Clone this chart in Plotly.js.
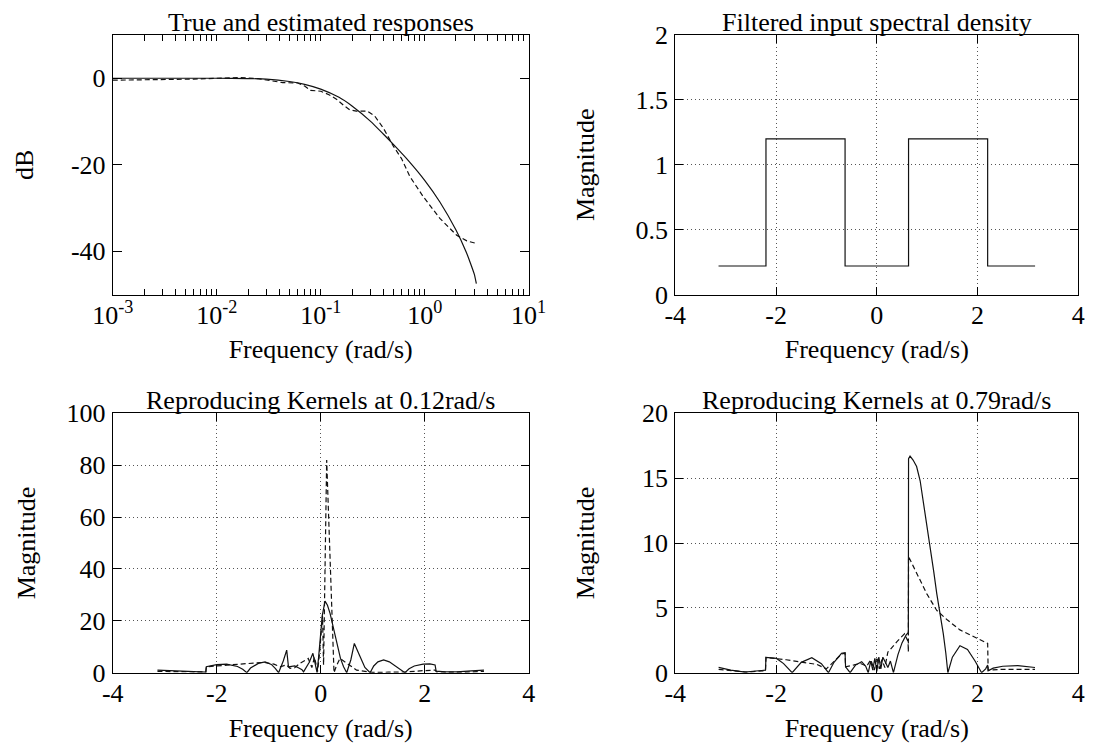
<!DOCTYPE html>
<html><head><meta charset="utf-8">
<script src="https://cdn.plot.ly/plotly-3.0.1.min.js"></script>
<style>html,body{margin:0;padding:0;background:#fff}#chart{width:1100px;height:743px}</style>
</head><body><div id="chart"></div>
<script>
// ---------- Top-left: true and estimated responses (dB vs rad/s, log x) ----------
const trueFreq = [0.001, 0.01, 0.02, 0.03, 0.05, 0.07, 0.1, 0.15, 0.2, 0.3, 0.4, 0.5, 0.7, 1.0, 1.4, 2.0, 2.5, 2.75, 3.0, 3.14];
const trueDB   = [0, 0, -0.07, -0.2, -0.75, -1.4, -2.5, -4.4, -6.4, -9.9, -12.9, -15.3, -19.1, -23.6, -28.6, -35.1, -40.1, -42.7, -45.3, -47.5];
const estFreq  = [0.001, 0.003, 0.006, 0.01, 0.017, 0.025, 0.033, 0.043, 0.06, 0.07, 0.08, 0.1, 0.12, 0.143, 0.165, 0.19, 0.22, 0.28, 0.33, 0.4, 0.5, 0.6, 0.72, 0.97, 1.4, 2.03, 2.54, 3.14];
const estDB    = [-0.45, -0.4, -0.2, 0.0, 0.15, -0.1, -0.6, -1.0, -1.1, -1.8, -2.8, -3.0, -3.8, -4.9, -6.2, -7.3, -7.6, -7.6, -8.7, -11.5, -15.7, -18.6, -22.7, -27.4, -32.4, -36.3, -37.6, -38.2];

// ---------- Top-right: filtered input spectral density (step) ----------
const psdFreq = [-3.1416, -2.2, -0.63, 0.63, 2.2, 3.1416];
const psdMag  = [0.22, 1.2, 0.22, 1.2, 0.22, 0.22];

// ---------- Bottom-left: reproducing kernels at 0.12 rad/s ----------
const k1SolidFreq = [-3.14, -2.9, -2.64, -2.4, -2.21, -2.2, -2.0, -1.81, -1.6, -1.5, -1.42, -1.35, -1.2, -1.07, -0.95, -0.87, -0.81, -0.72, -0.654, -0.62, -0.5, -0.42, -0.36, -0.33, -0.22, -0.15, -0.1, -0.07, -0.04, -0.013, 0.03, 0.083, 0.13, 0.18, 0.25, 0.31, 0.38, 0.44, 0.5, 0.58, 0.647, 0.75, 0.85, 0.95, 1.02, 1.1, 1.21, 1.32, 1.45, 1.55, 1.62, 1.7, 1.8, 1.97, 2.1, 2.2, 2.22, 2.4, 2.62, 2.9, 3.14];
const k1SolidMag  = [1.0, 0.8, 0.6, 0.4, 0.26, 2.3, 3.1, 3.3, 2.4, 1.3, 0.0, 1.8, 3.6, 4.2, 3.2, 1.6, 0.0, 4.5, 8.7, 2.3, 2.6, 1.8, 1.2, 0.3, 4.0, 7.5, 3.0, 0.0, 6.0, 12.6, 22.0, 27.6, 26.0, 22.9, 16.5, 11.3, 5.5, 2.3, 0.0, 5.0, 11.3, 6.5, 2.0, 0.0, 2.6, 4.2, 4.9, 4.2, 2.4, 0.9, 0.0, 1.5, 2.6, 3.3, 3.4, 3.0, 0.6, 0.3, 0.3, 0.7, 1.0];
const k1DashFreq  = [-3.14, -2.6, -2.21, -2.2, -1.9, -1.5, -1.1, -0.9, -0.78, -0.66, -0.59, -0.5, -0.4, -0.24, -0.17, -0.12, -0.06, -0.02, 0.035, 0.055, 0.115, 0.256, 0.3, 0.37, 0.45, 0.55, 0.69, 0.85, 1.0, 1.3, 1.65, 1.97, 2.2, 2.23, 2.7, 3.14];
const k1DashMag   = [0.5, 0.4, 0.3, 2.3, 2.8, 3.3, 4.0, 3.3, 2.3, 3.0, 1.7, 1.9, 3.6, 5.5, 2.0, 6.0, 0.5, 8.0, 22.0, 3.0, 82.0, 0.0, 2.5, 5.5, 4.5, 3.0, 1.0, 0.5, 0.1, 0.2, 0.3, 0.8, 1.0, 0.3, 0.2, 0.5];

// ---------- Bottom-right: reproducing kernels at 0.79 rad/s ----------
const k2SolidFreq = [-3.14, -2.9, -2.62, -2.4, -2.21, -2.2, -1.99, -1.85, -1.68, -1.5, -1.29, -1.1, -0.96, -0.85, -0.70, -0.63, -0.62, -0.53, -0.42, -0.30, -0.22, -0.17, -0.12, -0.08, -0.04, 0.0, 0.04, 0.08, 0.12, 0.17, 0.22, 0.27, 0.33, 0.42, 0.5, 0.58, 0.626, 0.63, 0.66, 0.72, 0.79, 0.86, 0.92, 1.0, 1.06, 1.13, 1.19, 1.26, 1.32, 1.37, 1.41, 1.5, 1.65, 1.8, 1.95, 2.08, 2.16, 2.2, 2.21, 2.31, 2.5, 2.8, 3.14];
const k2SolidMag  = [0.41, 0.2, 0.05, 0.12, 0.2, 1.18, 1.1, 0.7, 0.0, 0.8, 1.16, 0.7, 0.0, 0.8, 1.5, 1.54, 0.46, 0.0, 0.6, 0.85, 0.5, 0.0, 0.9, 0.2, 1.1, 0.1, 1.2, 0.3, 1.2, 0.8, 0.4, 0.9, 0.0, 1.4, 2.3, 2.9, 3.1, 16.5, 16.7, 16.4, 15.9, 14.8, 13.3, 11.4, 9.7, 7.8, 6.1, 4.5, 3.0, 1.5, 0.0, 1.2, 2.08, 1.8, 0.9, 0.0, 0.3, 0.6, 0.15, 0.35, 0.5, 0.55, 0.4];
const k2DashFreq  = [-3.14, -2.9, -2.58, -2.21, -2.2, -1.8, -1.4, -1.19, -1.0, -0.85, -0.70, -0.63, -0.62, -0.45, -0.33, -0.2, -0.12, -0.05, 0.0, 0.05, 0.1, 0.16, 0.22, 0.27, 0.4, 0.55, 0.62, 0.626, 0.63, 0.725, 0.85, 0.99, 1.19, 1.39, 1.65, 1.98, 2.2, 2.21, 2.5, 3.14];
const k2DashMag   = [0.26, 0.15, 0.05, 0.15, 1.18, 1.0, 0.8, 0.64, 0.3, 0.9, 1.44, 1.5, 0.46, 0.6, 0.72, 0.5, 1.0, 0.2, 1.2, 0.3, 1.0, 0.4, 1.6, 1.8, 2.4, 3.0, 2.4, 1.6, 8.95, 8.2, 7.2, 6.1, 4.8, 4.1, 3.3, 2.65, 2.26, 0.2, 0.26, 0.26];

// ---------- Text and tick labels ----------
const subplotTitles = ['True and estimated responses', 'Filtered input spectral density', 'Reproducing Kernels at 0.12rad/s', 'Reproducing Kernels at 0.79rad/s'];
const xTitle = 'Frequency (rad/s)';
const logTickVals = [0.001, 0.01, 0.1, 1, 10];
const logTickText = ['10<sup>-3</sup>', '10<sup>-2</sup>', '10<sup>-1</sup>', '10<sup>0</sup>', '10<sup>1</sup>'];
const dbTickVals = [-40, -20, 0];
const dbTickText = ['-40', '-20', '0'];
const linTickVals = [-4, -2, 0, 2, 4];
const linTickText = ['-4', '-2', '0', '2', '4'];
const psdTickVals = [0, 0.5, 1, 1.5, 2];
const psdTickText = ['0', '0.5', '1', '1.5', '2'];
const k1TickVals = [0, 20, 40, 60, 80, 100];
const k1TickText = ['0', '20', '40', '60', '80', '100'];
const k2TickVals = [0, 5, 10, 15, 20];
const k2TickText = ['0', '5', '10', '15', '20'];

const FONT = 'Liberation Serif, Times New Roman, Times, serif';
const FS = 26;
const INK = '#111';

function solid(x, y, xa, ya) { return {x, y, xaxis: xa, yaxis: ya, type: 'scatter', mode: 'lines', line: {color: INK, width: 1.2}, hoverinfo: 'skip'}; }
function dashed(x, y, xa, ya) { return {x, y, xaxis: xa, yaxis: ya, type: 'scatter', mode: 'lines', line: {color: INK, width: 1.2, dash: '5px,3px'}, hoverinfo: 'skip'}; }

const traces = [
  Object.assign(solid(trueFreq, trueDB, 'x', 'y'), {line: {color: INK, width: 1.2, shape: 'spline', smoothing: 0.6}}),
  dashed(estFreq, estDB, 'x', 'y'),
  Object.assign(solid(psdFreq, psdMag, 'x2', 'y2'), {line: {color: INK, width: 1.2, shape: 'hv'}}),
  solid(k1SolidFreq, k1SolidMag, 'x3', 'y3'),
  dashed(k1DashFreq, k1DashMag, 'x3', 'y3'),
  solid(k2SolidFreq, k2SolidMag, 'x4', 'y4'),
  dashed(k2DashFreq, k2DashMag, 'x4', 'y4')
];

function axis(extra) {
  return Object.assign({
    showline: true, mirror: 'ticks', linecolor: '#000', linewidth: 1,
    ticks: 'inside', ticklen: 8, tickcolor: '#000', tickwidth: 1,
    zeroline: false, showgrid: true, gridcolor: '#555', gridwidth: 1, griddash: '1px,3px',
    fixedrange: true, automargin: false, tickmode: 'array',
    tickfont: {family: FONT, size: FS, color: '#000'}, ticklabelstandoff: 1
  }, extra);
}
function xt() { return {text: xTitle, font: {family: FONT, size: FS, color: '#000'}, standoff: 11}; }
function yt(t, s) { return {text: t, font: {family: FONT, size: FS, color: '#000'}, standoff: s}; }

const colL = [0.1025, 0.4806], colR = [0.6139, 0.9803];
const rowT = [0.6036, 0.9529], rowB = [0.0946, 0.4437];

const layout = {
  width: 1100, height: 743, margin: {l: 0, r: 0, t: 0, b: 0},
  paper_bgcolor: '#fff', plot_bgcolor: '#fff', showlegend: false,
  font: {family: FONT, size: FS, color: '#000'},
  xaxis: axis({domain: colL, anchor: 'y', type: 'log', range: [-3, 1], tickvals: logTickVals, ticktext: logTickText, showgrid: false, ticklen: 6, ticklabelstandoff: -3,
               minor: {dtick: 'D1', ticks: 'inside', ticklen: 6, tickcolor: '#000', showgrid: false}, title: xt()}),
  yaxis: axis({domain: rowT, anchor: 'x', range: [-50, 10], tickvals: dbTickVals, ticktext: dbTickText, showgrid: false, ticklen: 9, title: yt('dB', 29)}),
  xaxis2: axis({domain: colR, anchor: 'y2', range: [-4, 4], tickvals: linTickVals, ticktext: linTickText, ticklabelstandoff: -3, title: xt()}),
  yaxis2: axis({domain: rowT, anchor: 'x2', range: [0, 2], tickvals: psdTickVals, ticktext: psdTickText, title: yt('Magnitude', 33)}),
  xaxis3: axis({domain: colL, anchor: 'y3', range: [-4, 4], tickvals: linTickVals, ticktext: linTickText, ticklabelstandoff: -3, title: xt()}),
  yaxis3: axis({domain: rowB, anchor: 'x3', range: [0, 100], tickvals: k1TickVals, ticktext: k1TickText, title: yt('Magnitude', 23)}),
  xaxis4: axis({domain: colR, anchor: 'y4', range: [-4, 4], tickvals: linTickVals, ticktext: linTickText, ticklabelstandoff: -3, title: xt()}),
  yaxis4: axis({domain: rowB, anchor: 'x4', range: [0, 20], tickvals: k2TickVals, ticktext: k2TickText, title: yt('Magnitude', 39)}),
  annotations: subplotTitles.map((t, i) => ({
    text: t, showarrow: false, xref: (i ? 'x' + (i + 1) : 'x') + ' domain', yref: (i ? 'y' + (i + 1) : 'y') + ' domain',
    x: 0.5, y: 1, xanchor: 'center', yanchor: 'bottom', yshift: -4,
    font: {family: FONT, size: FS, color: '#000'}
  }))
};

Plotly.newPlot('chart', traces, layout, {staticPlot: true, displayModeBar: false});
</script></body></html>
